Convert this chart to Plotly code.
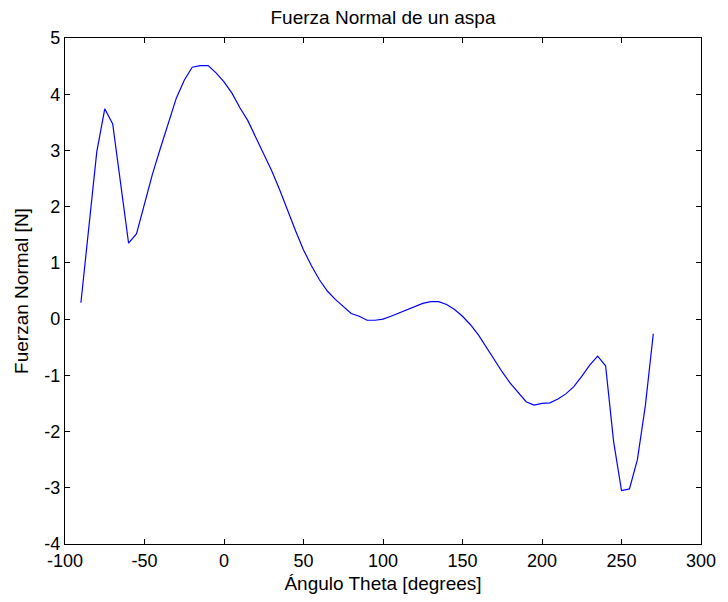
import plotly.graph_objects as go

angles = list(range(-90, 275, 5))
force = [
    0.29, 1.63, 2.98, 3.74, 3.47, 2.41, 1.35, 1.52, 2.07, 2.58,
    3.04, 3.49, 3.93, 4.25, 4.48, 4.51, 4.51, 4.38, 4.22, 4.02,
    3.76, 3.53, 3.24, 2.95, 2.64, 2.30, 1.93, 1.57, 1.23, 0.95,
    0.70, 0.50, 0.35, 0.22, 0.10, 0.05, -0.02, -0.02, 0.00, 0.05,
    0.11, 0.17, 0.23, 0.28, 0.31, 0.31, 0.26, 0.17, 0.05, -0.10,
    -0.28, -0.50, -0.73, -0.94, -1.14, -1.31, -1.47, -1.53, -1.50, -1.49,
    -1.42, -1.33, -1.20, -1.02, -0.82, -0.66, -0.83, -2.17, -3.05, -3.02,
    -2.50, -1.54, -0.26,
]

x_ticks = [-100, -50, 0, 50, 100, 150, 200, 250, 300]
x_tick_text = ["-100", "-50", "0", "50", "100", "150", "200", "250", "300"]
y_ticks = [-4, -3, -2, -1, 0, 1, 2, 3, 4, 5]
y_tick_text = ["-4", "-3", "-2", "-1", "0", "1", "2", "3", "4", "5"]

FONT = "Liberation Sans, Arial, sans-serif"
FS = 18
FT = 19

fig = go.Figure()
fig.add_trace(go.Scatter(x=angles, y=force, mode="lines",
                         line=dict(color="#0000ff", width=1.2),
                         showlegend=False))

axis_common = dict(
    showgrid=False, zeroline=False,
    showline=True, linecolor="black", linewidth=1.3, mirror="allticks",
    ticks="inside", ticklen=5, tickwidth=1, tickcolor="black",
    tickfont=dict(family=FONT, size=FS, color="black"),
)

fig.update_layout(
    width=728, height=602,
    margin=dict(l=65, r=18, t=38, b=57),
    paper_bgcolor="white", plot_bgcolor="white",
    font=dict(family=FONT, size=FS, color="black"),
    title=dict(text="Fuerza Normal de un aspa", x=0.5, xref="paper",
               y=1 - 17 / 602, yref="container", yanchor="middle",
               xanchor="center",
               font=dict(family=FONT, size=FT, color="black")),
    xaxis=dict(range=[-100, 300], tickvals=x_ticks, ticktext=x_tick_text,
               title=dict(text="Ángulo Theta [degrees]", standoff=6,
                          font=dict(family=FONT, size=FT, color="black")),
               **axis_common),
    yaxis=dict(range=[-4, 5], tickvals=y_ticks, ticktext=y_tick_text,
               title=dict(text="Fuerzan Normal [N]", standoff=10,
                          font=dict(family=FONT, size=FT, color="black")),
               **axis_common),
)

fig.write_html("out.html")
